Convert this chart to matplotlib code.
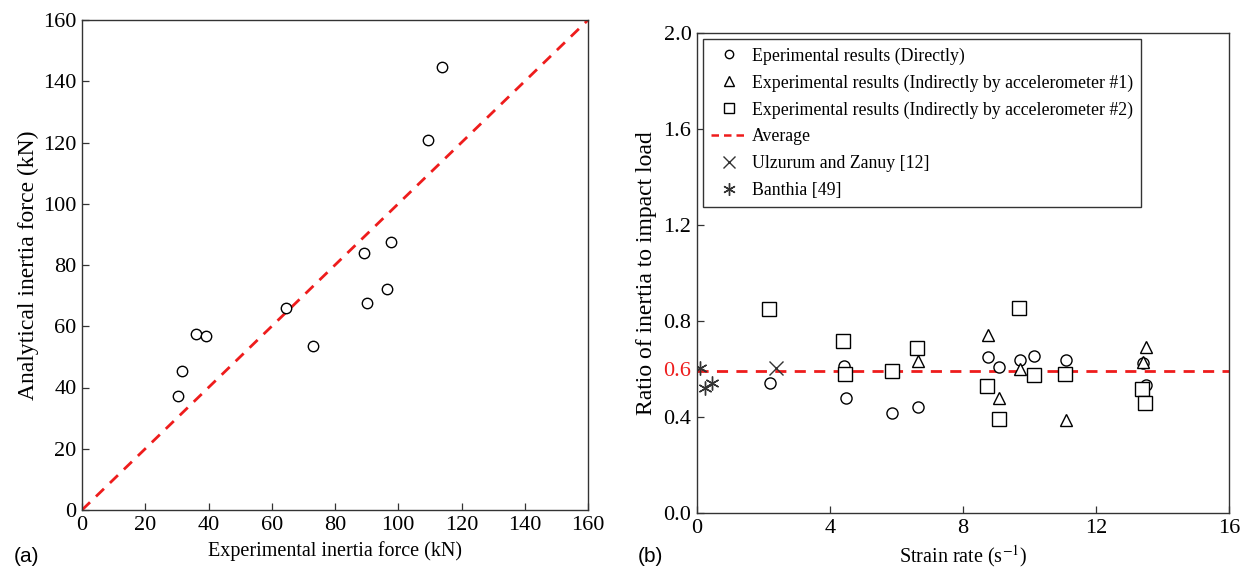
import numpy as np
import matplotlib
matplotlib.use("Agg")
import matplotlib.pyplot as plt
from matplotlib.lines import Line2D

plt.rcParams["font.family"] = ["Liberation Serif", "DejaVu Serif"]
plt.rcParams["mathtext.fontset"] = "stix"

# (a) inertia force comparison
exp_force = [30.2, 31.7, 36.1, 39.1, 64.6, 72.9, 89.2, 90.0, 96.3, 97.7, 109.5, 113.7]
ana_force = [37.1, 45.3, 57.5, 56.8, 65.8, 53.6, 84.0, 67.6, 72.2, 87.6, 120.9, 144.6]
force_ticks = [0, 20, 40, 60, 80, 100, 120, 140, 160]

# (b) ratio of inertia to impact load vs strain rate
direct_rate = [2.20, 4.42, 4.47, 5.87, 6.64, 8.74, 9.09, 9.70, 10.13, 11.11, 13.40, 13.50]
direct_ratio = [0.540, 0.613, 0.478, 0.418, 0.443, 0.649, 0.608, 0.636, 0.654, 0.639, 0.624, 0.533]

acc1_rate = [4.42, 6.64, 8.74, 9.09, 9.70, 10.13, 11.11, 13.40, 13.50]
acc1_ratio = [0.578, 0.633, 0.742, 0.478, 0.599, 0.578, 0.388, 0.629, 0.693]

acc2_rate = [2.18, 4.38, 4.44, 5.85, 6.63, 8.72, 9.08, 9.68, 10.13, 11.07, 13.39, 13.48]
acc2_ratio = [0.849, 0.717, 0.578, 0.593, 0.686, 0.529, 0.393, 0.853, 0.575, 0.578, 0.515, 0.457]

ulzurum_rate = [2.38]
ulzurum_ratio = [0.605]

banthia_rate = [0.10, 0.25, 0.45]
banthia_ratio = [0.605, 0.519, 0.543]

average_ratio = 0.59
rate_ticks = [0, 4, 8, 12, 16]
ratio_ticks = [0.0, 0.4, 0.6, 0.8, 1.2, 1.6, 2.0]

W, H = 1246, 577
fig = plt.figure(figsize=(W / 100, H / 100), dpi=100)


def px_axes(x0, y0, x1, y1):
    return fig.add_axes([x0 / W, 1 - y1 / H, (x1 - x0) / W, (y1 - y0) / H])


def style_axes(ax):
    for spine in ax.spines.values():
        spine.set_linewidth(1.0)
        spine.set_color("#333333")
    ax.tick_params(direction="in", length=5, width=0.9, labelsize=16, pad=4,
                   colors="#333333", labelcolor="black")


# ---- panel (a)
ax1 = px_axes(82, 20, 588, 510)
ax1.plot([0, 160], [0, 160], color="#ee1c1c", linestyle=(0, (4, 3)), linewidth=2.0)
ax1.plot(exp_force, ana_force, linestyle="none", marker="o", markersize=7.5,
         markerfacecolor="white", markeredgecolor="black", markeredgewidth=1.0)
ax1.set_xlim(0, 160)
ax1.set_ylim(0, 160)
ax1.set_xticks(force_ticks)
ax1.set_yticks(force_ticks)
style_axes(ax1)
ax1.set_xlabel("Experimental inertia force (kN)", fontsize=14.5, labelpad=5)
ax1.set_ylabel("Analytical inertia force (kN)", fontsize=17, labelpad=3)

# ---- panel (b)
ax2 = px_axes(697, 33, 1229, 513)
open_kw = dict(linestyle="none", markerfacecolor="white", markeredgecolor="black",
               markeredgewidth=1.0)
ax2.axhline(average_ratio, color="#ee1c1c", linestyle=(0, (4, 3)), linewidth=2.0)
ax2.plot(direct_rate, direct_ratio, marker="o", markersize=8, **open_kw)
ax2.plot(acc1_rate, acc1_ratio, marker="^", markersize=9, **open_kw)
ax2.plot(acc2_rate, acc2_ratio, marker="s", markersize=9.5, **open_kw)
ax2.plot(ulzurum_rate, ulzurum_ratio, linestyle="none", marker="x", markersize=10,
         color="#333333", markeredgewidth=1.0)
ax2.plot(banthia_rate, banthia_ratio, linestyle="none", marker=(6, 2, 0), markersize=10,
         color="#333333", markeredgewidth=1.0)
ax2.set_xlim(0, 16)
ax2.set_ylim(0, 2.0)
ax2.set_xticks(rate_ticks)
ax2.set_yticks(ratio_ticks)
ax2.set_yticklabels([f"{t:.1f}" for t in ratio_ticks])
style_axes(ax2)
for lbl, t in zip(ax2.get_yticklabels(), ratio_ticks):
    if t == 0.6:
        lbl.set_color("#ee1c1c")
ax2.set_xlabel("Strain rate (s$^{-1}$)", fontsize=14.5, labelpad=4)
ax2.set_ylabel("Ratio of inertia to impact load", fontsize=17, labelpad=5)

handles = [
    Line2D([], [], marker="o", markersize=6, **open_kw),
    Line2D([], [], marker="^", markersize=7, **open_kw),
    Line2D([], [], marker="s", markersize=7.5, **open_kw),
    Line2D([], [], color="#ee1c1c", linestyle=(0, (3, 2)), linewidth=1.8),
    Line2D([], [], linestyle="none", marker="x", markersize=9, color="#333333"),
    Line2D([], [], linestyle="none", marker=(6, 2, 0), markersize=9, color="#333333"),
]
labels = [
    "Eperimental results (Directly)",
    "Experimental results (Indirectly by accelerometer #1)",
    "Experimental results (Indirectly by accelerometer #2)",
    "Average",
    "Ulzurum and Zanuy [12]",
    "Banthia [49]",
]
leg = ax2.legend(handles, labels, loc="upper left", fontsize=12.8, frameon=True,
                 fancybox=False, edgecolor="#333333", framealpha=1.0,
                 borderaxespad=0.35, handlelength=2.0, handletextpad=0.3,
                 labelspacing=0.55, borderpad=0.45)
leg.get_frame().set_linewidth(1.0)

fig.text(14 / W, 1 - 556 / H, "(a)", fontsize=15, family="Liberation Sans", va="center")
fig.text(638 / W, 1 - 556 / H, "(b)", fontsize=15, family="Liberation Sans", va="center")

fig.savefig("out.png", dpi=100)
